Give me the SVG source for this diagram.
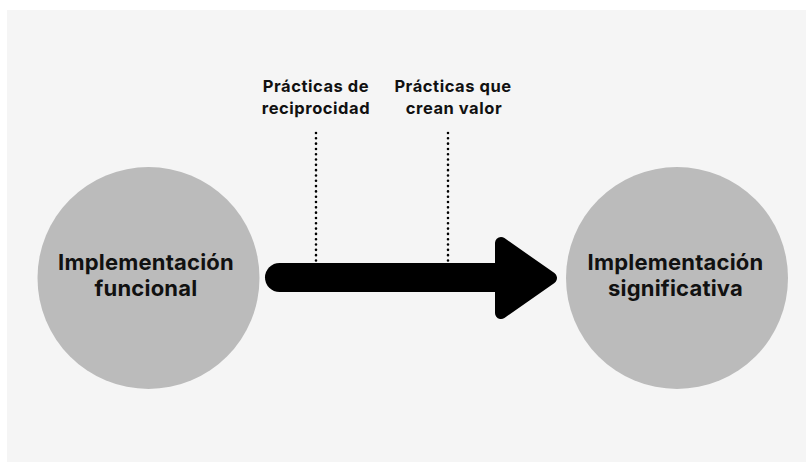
<svg xmlns="http://www.w3.org/2000/svg" width="806" height="462" viewBox="0 0 806 462">
  <defs>
    <style>
      .node { fill: #bbbbbb; }
      .ntext { font-family: Inter, "Liberation Sans", sans-serif; font-weight: 700; font-size: 22px; letter-spacing: 0.2px; fill: #111111; text-anchor: middle; }
      .ltext { font-family: Inter, "Liberation Sans", sans-serif; font-weight: 700; font-size: 16.5px; letter-spacing: 0.55px; fill: #111111; text-anchor: middle; }
      .dots { stroke: #000; stroke-width: 2.6; stroke-linecap: round; stroke-dasharray: 0.01 5.3; fill: none; }
    </style>
  </defs>
  <rect x="7" y="10" width="799" height="452" fill="#f5f5f5"/>

  <g id="connectors">
    <line x1="279.5" y1="277.5" x2="505" y2="277.5" stroke="#000" stroke-width="29" stroke-linecap="round"/>
    <polygon points="501,243 551,278 501,313" fill="#000" stroke="#000" stroke-width="12" stroke-linejoin="round"/>
    <line class="dots" x1="316" y1="133" x2="316" y2="262"/>
    <line class="dots" x1="448" y1="133" x2="448" y2="262"/>
  </g>

  <g id="node-funcional">
    <circle class="node" cx="148.5" cy="278" r="111"/>
    <text class="ntext" x="146" y="270">Implementación</text>
    <text class="ntext" x="146" y="296">funcional</text>
  </g>

  <g id="node-significativa">
    <circle class="node" cx="677" cy="278" r="111"/>
    <text class="ntext" x="675.5" y="270">Implementación</text>
    <text class="ntext" x="675.5" y="296">significativa</text>
  </g>

  <g id="label-reciprocidad">
    <text class="ltext" x="316" y="92">Prácticas de</text>
    <text class="ltext" x="316" y="114">reciprocidad</text>
  </g>

  <g id="label-valor">
    <text class="ltext" x="453" y="92">Prácticas que</text>
    <text class="ltext" x="454" y="114">crean valor</text>
  </g>
</svg>
